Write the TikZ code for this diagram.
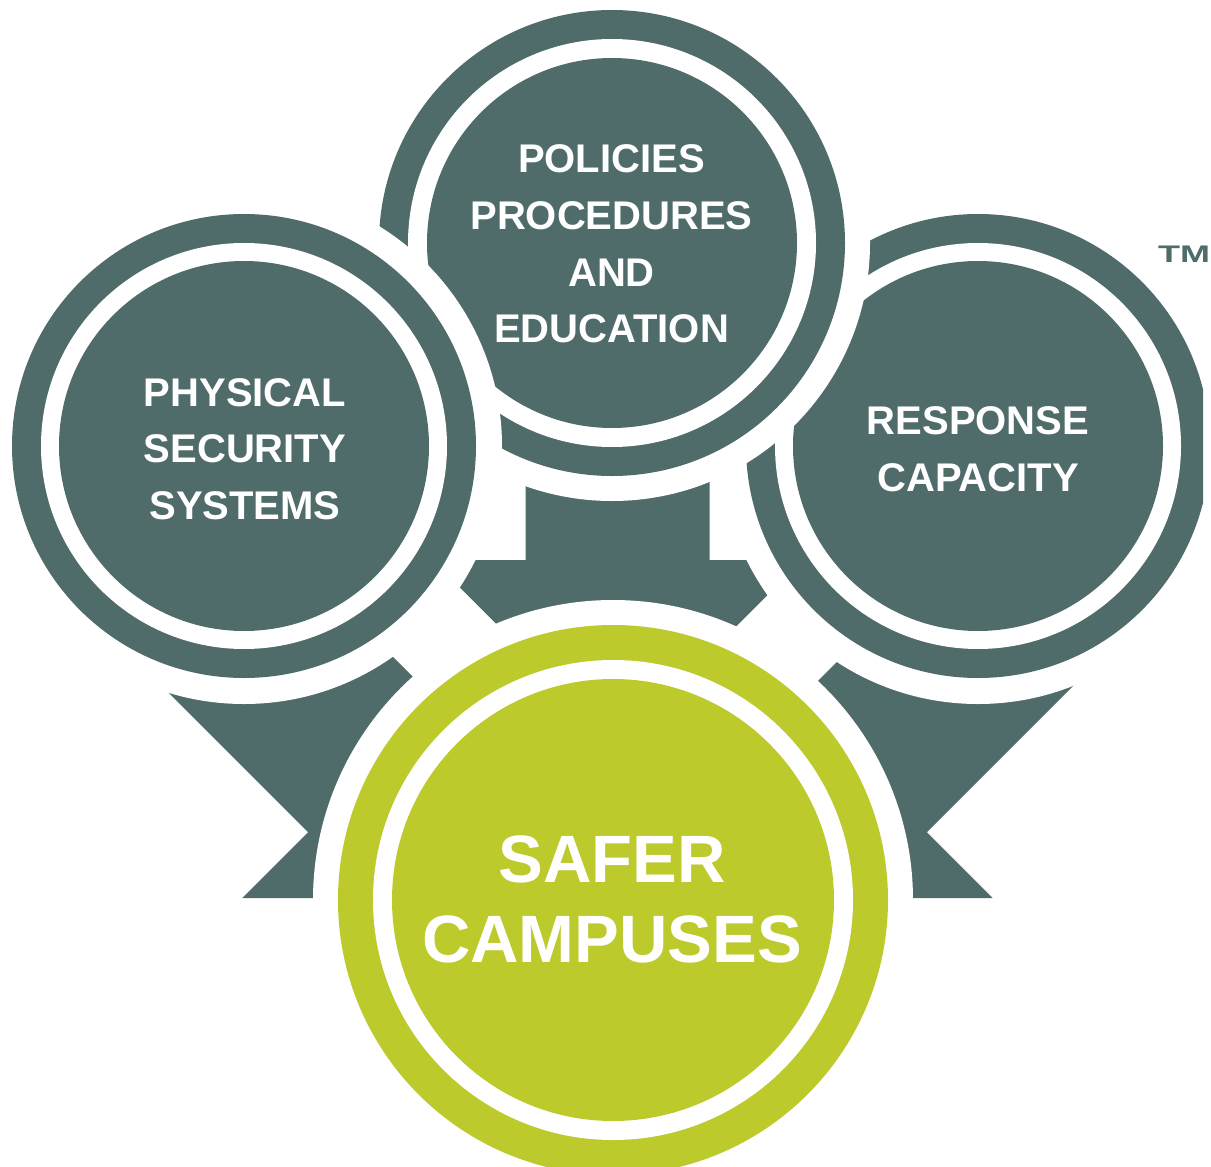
\documentclass[tikz,border=0pt]{standalone}
\usepackage{fontspec}
\setmainfont{Liberation Sans}
\definecolor{slate}{RGB}{79,108,106}
\definecolor{lime}{RGB}{188,202,44}
\begin{document}
\begin{tikzpicture}[x=1pt,y=-1pt,
  lbl/.style={text=white,font=\bfseries\fontsize{40}{48}\selectfont,anchor=base,inner sep=0pt},
  biglbl/.style={text=white,font=\bfseries\fontsize{67}{80}\selectfont,anchor=base,inner sep=0pt},
  arrowfill/.style={fill=slate},
  halo/.style={fill=white},
  ringdark/.style={fill=slate},
  ringgreen/.style={fill=lime}]
\useasboundingbox (0,0) rectangle (1211,1167);
\clip (0,0) rectangle (1211,1167);
\fill[white] (0,0) rectangle (1211,1167);

% centres
\coordinate (cleft) at (244,446);
\coordinate (ctop) at (612,243);
\coordinate (cright) at (978,446);
\coordinate (cgreen) at (613,900);

% arrows (apex at origin, pointing down)
\fill[arrowfill, shift={(617.5,745)}]
  (0,0) -- (185,-185) -- (92,-185) -- (92,-445) -- (-92,-445) -- (-92,-185) -- (-185,-185) -- cycle;
\fill[arrowfill, shift={(504,898)}, rotate=45]
  (0,0) -- (185,-185) -- (92,-185) -- (92,-503) -- (-92,-503) -- (-92,-185) -- (-185,-185) -- cycle;
\fill[arrowfill, shift={(731,898)}, rotate=-45]
  (0,0) -- (185,-185) -- (92,-185) -- (92,-503) -- (-92,-503) -- (-92,-185) -- (-185,-185) -- cycle;

% right circle (under the top one)
\begin{scope}
  \clip (0,0) rectangle (1203,1167);
  \fill[halo] (cright) circle[radius=258pt];
  \fill[ringdark] (cright) circle[radius=232pt];
  \fill[white] (cright) circle[radius=203pt];
  \fill[ringdark] (cright) circle[radius=185pt];
\end{scope}

% top circle
\fill[halo] (ctop) circle[radius=258pt];
\fill[ringdark] (ctop) circle[radius=233pt];
\fill[white] (ctop) circle[radius=204pt];
\fill[ringdark] (ctop) circle[radius=185pt];

% left circle (above the top one)
\fill[halo] (cleft) circle[radius=258pt];
\fill[ringdark] (cleft) circle[radius=232pt];
\fill[white] (cleft) circle[radius=203pt];
\fill[ringdark] (cleft) circle[radius=185pt];

% green circle
\fill[halo] (cgreen) circle[radius=300pt];
\fill[ringgreen] (cgreen) circle[radius=275pt];
\fill[white] (cgreen) circle[radius=240pt];
\fill[ringgreen] (cgreen) circle[radius=221pt];

% texts
\node[lbl] (t1) at (611.5,172.3) {POLICIES};
\node[lbl] (t2) at (611.5,229.3) {PROCEDURES};
\node[lbl] (t3) at (611.5,286.3) {AND};
\node[lbl] (t4) at (611.5,342.3) {EDUCATION};

\node[lbl] (l1) at (245,406.3) {PHYSICAL};
\node[lbl] (l2) at (245,462.3) {SECURITY};
\node[lbl] (l3) at (245,519.3) {SYSTEMS};

\node[lbl] (r1) at (978,434.3) {RESPONSE};
\node[lbl] (r2) at (978,491.3) {CAPACITY};

\node[biglbl] (g1) at (612,882) {SAFER};
\node[biglbl] (g2) at (612,962) {CAMPUSES};

\node[anchor=base west,inner sep=0pt,text=slate,font=\bfseries\fontsize{24}{24}\selectfont] (tm) at (1158,262) {\scalebox{1.5}[1]{TM}};
\end{tikzpicture}
\end{document}
